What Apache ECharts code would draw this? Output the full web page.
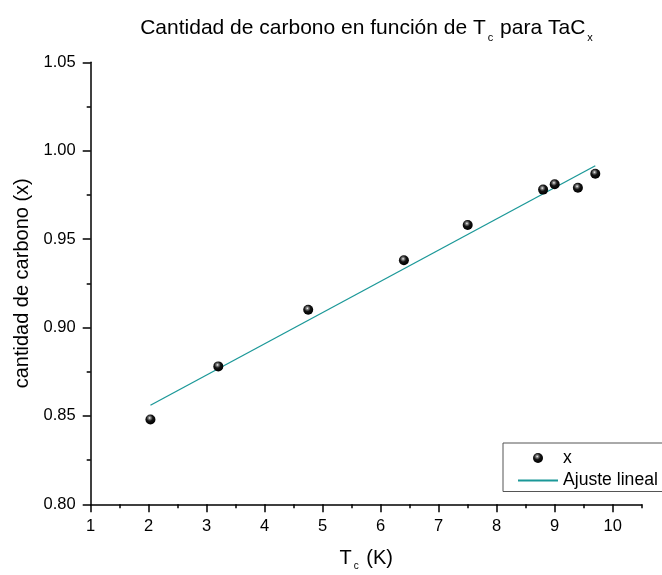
<!DOCTYPE html>
<html>
<head>
<meta charset="utf-8">
<script src="https://cdn.jsdelivr.net/npm/echarts@6/dist/echarts.min.js"></script>
<style>
  html, body { margin: 0; padding: 0; background: #fff; }
  #chart { width: 662px; height: 575px; }
</style>
</head>
<body>
<div id="chart"></div>
<script>
// Critical temperature Tc (K) of each TaCx sample
const tcValues = [2.03, 3.2, 4.75, 6.4, 7.5, 8.8, 9.0, 9.4, 9.7];
// Carbon content x of each sample
const carbonValues = [0.848, 0.878, 0.910, 0.938, 0.958, 0.978, 0.981, 0.979, 0.987];
// Linear fit endpoints (Tc, x)
const fitTc = [2.03, 9.7];
const fitCarbon = [0.856, 0.9915];
// Axis tick labels
const xTickLabels = [1, 2, 3, 4, 5, 6, 7, 8, 9, 10];
const yTickLabels = ['0.80', '0.85', '0.90', '0.95', '1.00', '1.05'];

const FONT = '"Liberation Sans", Arial, sans-serif';

const sphere = {
  type: 'radial', x: 0.42, y: 0.35, r: 0.62,
  colorStops: [
    { offset: 0, color: '#ffffff' },
    { offset: 0.18, color: '#8a8a8a' },
    { offset: 0.5, color: '#151515' },
    { offset: 1, color: '#000000' }
  ]
};

const chart = echarts.init(document.getElementById('chart'), null, { renderer: 'canvas' });

const xMin = xTickLabels[0];
const xMax = xTickLabels[xTickLabels.length - 1] + 0.5;
const yMin = parseFloat(yTickLabels[0]);
const yMax = parseFloat(yTickLabels[yTickLabels.length - 1]);

chart.setOption({
  animation: false,
  backgroundColor: '#ffffff',
  title: {
    text: '{a|Cantidad de carbono en función de T}{s|c}{a| para TaC}{s|x}',
    left: 362,
    textAlign: 'center',
    top: 7,
    textStyle: {
      fontWeight: 'normal',
      rich: {
        a: { fontFamily: FONT, fontSize: 21, fontWeight: 'normal', color: '#000', lineHeight: 32 },
        s: { fontFamily: FONT, fontSize: 11, fontWeight: 'normal', color: '#000', padding: [20, 1, 0, 2], lineHeight: 14 }
      }
    }
  },
  grid: { left: 90.7, right: 20.3, top: 62.3, bottom: 70.7, containLabel: false, outerBoundsMode: 'none' },
  legend: {
    orient: 'vertical',
    left: 503,
    top: 443,
    padding: [6, 30, 2, 14],
    itemGap: 4.5,
    itemWidth: 40,
    itemHeight: 10,
    borderColor: '#555',
    borderWidth: 1,
    borderRadius: 0,
    textStyle: { fontFamily: FONT, fontSize: 17.6, color: '#000' },
    data: [
      { name: 'x' },
      { name: 'Ajuste lineal', itemStyle: { color: 'rgba(0,0,0,0)', opacity: 0, borderWidth: 0 } }
    ]
  },
  xAxis: [
    {
      type: 'value',
      min: xMin,
      max: xMax,
      interval: 1,
      position: 'bottom',
      name: '{a|T}{s|c}{a| (K)}',
      nameLocation: 'middle',
      nameGap: 41,
      nameTextStyle: {
        rich: {
          a: { fontFamily: FONT, fontSize: 20, color: '#000', lineHeight: 26 },
          s: { fontFamily: FONT, fontSize: 10, color: '#000', padding: [16, 2, 0, 2], lineHeight: 12 }
        }
      },
      axisLine: { show: true, lineStyle: { color: '#000', width: 1.5 } },
      axisTick: { show: true, inside: false, length: 8, lineStyle: { color: '#000', width: 1.5 }, customValues: xTickLabels },
      axisLabel: {
        show: true, margin: 14, color: '#000', fontFamily: FONT, fontSize: 16.5,
        customValues: xTickLabels,
        formatter: v => String(v)
      },
      splitLine: { show: false }
    },
    {
      // half-unit minor ticks along the bottom
      type: 'value',
      min: xMin,
      max: xMax,
      interval: 0.5,
      position: 'bottom',
      axisLine: { show: false },
      axisTick: { show: true, inside: false, length: 4, lineStyle: { color: '#000', width: 1.5 } },
      axisLabel: { show: false },
      splitLine: { show: false }
    }
  ],
  yAxis: {
    type: 'value',
    min: yMin,
    max: yMax,
    interval: 0.05,
    name: 'cantidad de carbono (x)',
    nameLocation: 'middle',
    nameGap: 58,
    nameTextStyle: { fontFamily: FONT, fontSize: 20, color: '#000' },
    axisLine: { show: true, lineStyle: { color: '#000', width: 1.5 } },
    axisTick: { show: true, inside: false, length: 8, lineStyle: { color: '#000', width: 1.5 } },
    minorTick: { show: true, splitNumber: 2, length: 4, lineStyle: { color: '#000', width: 1.5 } },
    axisLabel: {
      margin: 15, color: '#000', fontFamily: FONT, fontSize: 16.5,
      formatter: v => v.toFixed(2)
    },
    splitLine: { show: false },
    minorSplitLine: { show: false }
  },
  series: [
    {
      name: 'Ajuste lineal',
      type: 'line',
      xAxisIndex: 0,
      data: fitTc.map((t, i) => [t, fitCarbon[i]]),
      symbol: 'none',
      lineStyle: { color: '#1b9898', width: 1.3 },
      itemStyle: { color: '#1b9898' },
      z: 2
    },
    {
      name: 'x',
      type: 'scatter',
      xAxisIndex: 0,
      data: tcValues.map((t, i) => [t, carbonValues[i]]),
      symbol: 'circle',
      symbolSize: 10,
      itemStyle: { color: sphere, opacity: 1 },
      z: 3
    }
  ]
});
</script>
</body>
</html>
